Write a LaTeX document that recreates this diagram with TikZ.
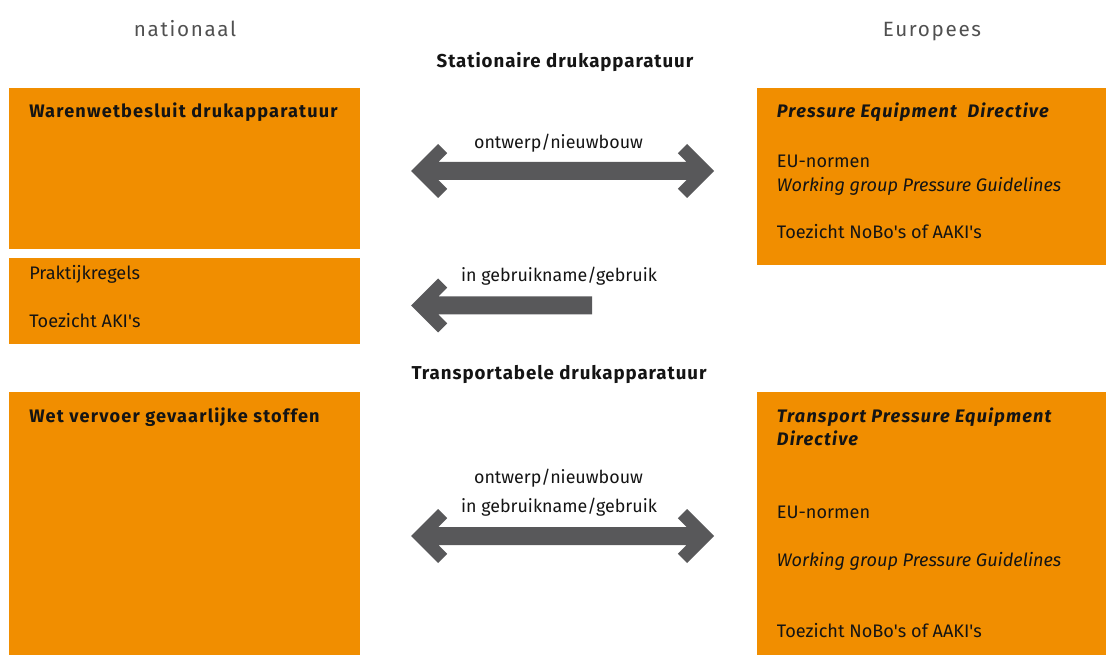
\documentclass[tikz,border=0pt]{standalone}
\usepackage{fontspec}
\setmainfont{Fira Sans}
\newfontfamily\spaced[LetterSpace=5]{Fira Sans}
\newfontfamily\boxspaced[LetterSpace=6.5]{Fira Sans}
\newfontfamily\hdspaced[LetterSpace=8]{Fira Sans}
\definecolor{boxorange}{HTML}{F18E00}
\definecolor{arrowgray}{HTML}{58585A}
\definecolor{headgray}{HTML}{505050}
\definecolor{txt}{HTML}{141414}
\newcommand\ap{\textquotesingle}
\tikzset{
  panel/.style={fill=boxorange, draw=none},
  lbl/.style={anchor=base west, inner sep=0pt, text=txt, font=\fontsize{13.6}{16}\selectfont},
  boldlbl/.style={anchor=base west, inner sep=0pt, text=txt, font=\fontsize{13.6}{16}\selectfont\boxspaced\bfseries},
  boldit/.style={anchor=base west, inner sep=0pt, text=txt, font=\fontsize{13.6}{16}\selectfont\boxspaced\bfseries\itshape},
  itlbl/.style={anchor=base west, inner sep=0pt, text=txt, font=\fontsize{13.6}{16}\selectfont\itshape},
  arrowlbl/.style={anchor=base, inner sep=0pt, text=txt, font=\fontsize{13.4}{16}\selectfont},
  sectlbl/.style={anchor=base, inner sep=0pt, text=txt, font=\fontsize{14}{17}\selectfont\spaced\bfseries},
  headlbl/.style={anchor=base, inner sep=0pt, text=headgray, font=\fontsize{15.5}{18}\selectfont\hdspaced},
  blockarrow/.style={fill=arrowgray, draw=none}
}
\begin{document}
\begin{tikzpicture}[x=0.75pt,y=-0.75pt]
\useasboundingbox (0,0) rectangle (1106,655);
% headers
\node[headlbl] (hnat) at (185,36.5) {nationaal};
\node[headlbl] (heur) at (932,36.5) {Europees};
\node[sectlbl] (hstat) at (565,67.2) {Stationaire drukapparatuur};
\node[sectlbl] (htrans) at (559,379.2) {Transportabele drukapparatuur};
% panels
\path[panel] (9,88) rectangle (360,249);
\path[panel] (9,258) rectangle (360,344);
\path[panel] (757,88) rectangle (1106,265);
\path[panel] (9,392) rectangle (360,655);
\path[panel] (757,392) rectangle (1106,655);
% left texts
\node[boldlbl] (wwb) at (29,117.8) {Warenwetbesluit drukapparatuur};
\node[lbl] (prk) at (29,279.5) {Praktijkregels};
\node[lbl] (aki) at (29,327.2) {Toezicht AKI\ap s};
\node[boldlbl] (wvgs) at (29,422.2) {Wet vervoer gevaarlijke stoffen};
% right top texts
\node[boldit] (ped) at (776.7,117.8) {Pressure Equipment\ \ Directive};
\node[lbl] (eun1) at (776.7,167.8) {EU-normen};
\node[itlbl] (wg1) at (776.7,191.2) {Working group Pressure Guidelines};
\node[lbl] (nobo1) at (776.7,238.8) {Toezicht NoBo\ap s of AAKI\ap s};
% right bottom texts
\node[boldit] (tped1) at (776.7,422.2) {Transport Pressure Equipment};
\node[boldit] (tped2) at (776.7,445.5) {Directive};
\node[lbl] (eun2) at (776.7,518.2) {EU-normen};
\node[itlbl] (wg2) at (776.7,566.2) {Working group Pressure Guidelines};
\node[lbl] (nobo2) at (776.7,637.8) {Toezicht NoBo\ap s of AAKI\ap s};
% arrow labels
\node[arrowlbl] (a1) at (558.5,148.8) {ontwerp/nieuwbouw};
\node[arrowlbl] (a2) at (559,281.2) {in gebruikname/gebruik};
\node[arrowlbl] (a3) at (558.5,483.8) {ontwerp/nieuwbouw};
\node[arrowlbl] (a4) at (559,512.2) {in gebruikname/gebruik};
% block arrows
\foreach \c in {171,536}{
  \fill[blockarrow] (411,\c) -- ++(27,-27) -- ++(9.2,9.2) -- ++(-8.8,8.8)
    -- (686.6,\c-9) -- ++(-8.8,-8.8) -- ++(9.2,-9.2) -- (714,\c)
    -- (687,\c+27) -- ++(-9.2,-9.2) -- ++(8.8,-8.8)
    -- (438.4,\c+9) -- ++(8.8,8.8) -- ++(-9.2,9.2) -- cycle;
}
\fill[blockarrow] (411,305.5) -- ++(27,-27) -- ++(9.2,9.2) -- ++(-8.8,8.8)
  -- (592,296.5) -- (592,314.5) -- (438.4,314.5) -- ++(8.8,8.8) -- ++(-9.2,9.2) -- cycle;
\end{tikzpicture}
\end{document}
